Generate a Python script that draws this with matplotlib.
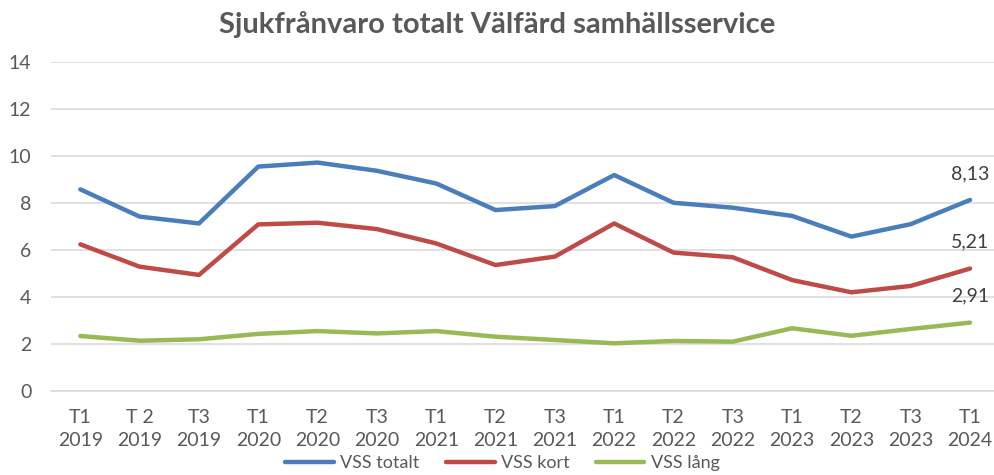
import matplotlib
matplotlib.use("Agg")
import matplotlib.pyplot as plt

plt.rcParams['font.family'] = ['Lato', 'DejaVu Sans']

periods = ["T1\n2019", "T 2\n2019", "T3\n2019", "T1\n2020", "T2\n2020", "T3\n2020",
           "T1\n2021", "T2\n2021", "T3\n2021", "T1\n2022", "T2\n2022", "T3\n2022",
           "T1\n2023", "T2\n2023", "T3\n2023", "T1\n2024"]
vss_totalt = [8.58, 7.42, 7.13, 9.55, 9.72, 9.37, 8.83, 7.70, 7.87, 9.19, 8.01, 7.80, 7.45, 6.57, 7.10, 8.13]
vss_kort = [6.24, 5.29, 4.94, 7.09, 7.16, 6.89, 6.28, 5.36, 5.72, 7.13, 5.89, 5.69, 4.72, 4.20, 4.47, 5.21]
vss_lang = [2.34, 2.14, 2.20, 2.43, 2.55, 2.45, 2.55, 2.31, 2.17, 2.03, 2.13, 2.10, 2.67, 2.35, 2.64, 2.91]
yticks = [0, 2, 4, 6, 8, 10, 12, 14]

series = [("VSS totalt", vss_totalt, "#4a7ebb"),
          ("VSS kort", vss_kort, "#be4b48"),
          ("VSS lång", vss_lang, "#98b954")]

fig = plt.figure(figsize=(9.95, 4.75), dpi=100)
ax = fig.add_axes([50.7 / 995, 84 / 475, (999.7 - 50.7) / 995, (391 - 62) / 475])

x = list(range(len(periods)))
for name, vals, col in series:
    ax.plot(x, vals, color=col, lw=3.2, label=name, solid_capstyle='round', solid_joinstyle='round', zorder=3)
    ax.annotate(f"{vals[-1]:.2f}".replace('.', ','), (x[-1], vals[-1]), xytext=(0, 13),
                textcoords='offset points', ha='center', va='bottom', fontsize=14, color='#404040')

ax.set_xlim(-0.5, len(periods) - 0.5)
ax.set_ylim(0, 14)
ax.set_yticks(yticks)
ax.set_xticks(x)
ax.set_xticklabels(periods, linespacing=1.4)
ax.grid(axis='y', color='#d9d9d9', lw=1.1, zorder=0)
ax.set_axisbelow(True)
for s in ['top', 'right', 'left']:
    ax.spines[s].set_visible(False)
ax.spines['bottom'].set_color('#d9d9d9')
ax.spines['bottom'].set_linewidth(1.1)
ax.tick_params(axis='both', length=0, labelsize=14, colors='#595959')
ax.tick_params(axis='x', pad=13)
ax.tick_params(axis='y', pad=14)

fig.text(0.5, 0.948, "Sjukfrånvaro totalt Välfärd samhällsservice", ha='center', va='center',
         fontsize=21, fontweight='bold', color='#595959')

fig.legend(loc='center', bbox_to_anchor=(0.505, 0.025), ncol=3, frameon=False, fontsize=13,
           handlelength=2.7, columnspacing=1.45, handletextpad=0.35, labelcolor='#595959')

fig.savefig("out.png", dpi=100)
